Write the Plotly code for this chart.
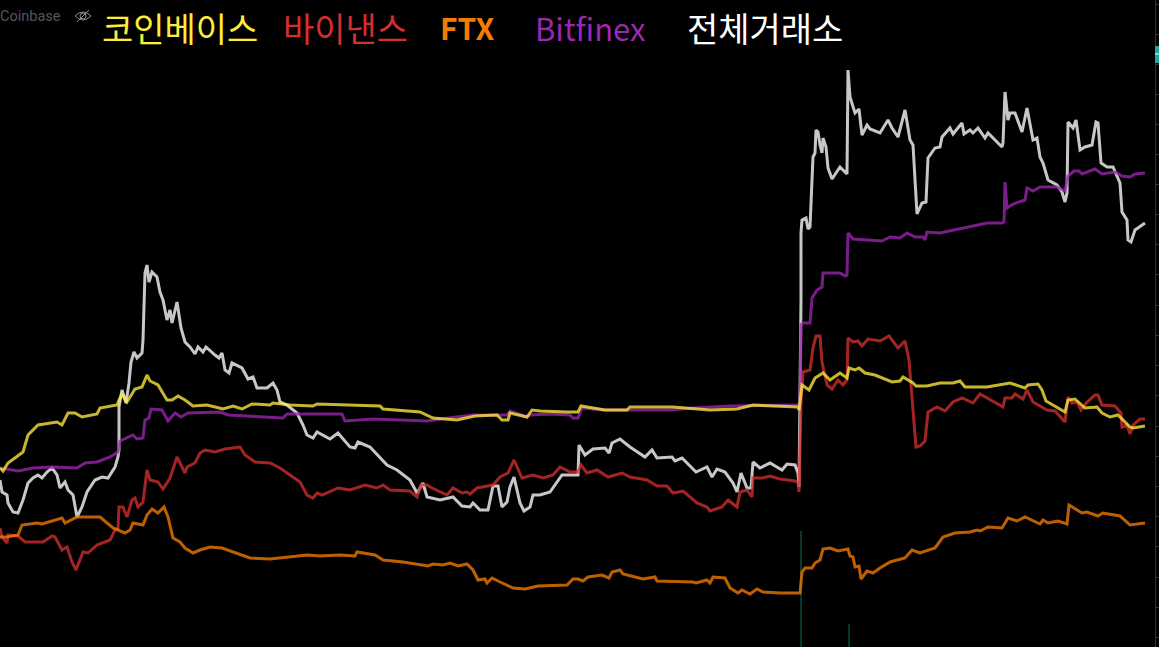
import plotly.graph_objects as go

# Time position (left to right) and level (higher number = lower on chart)
gray_x = [0,2,7,8,13,18,23,28,33,38,42,47,52,57,60,65,68,73,77,82,87,95,102,108,115,118,119,119,122,126,129,131,134,137,142,143,145,147,149,152,157,160,163,167,170,172,177,181,185,190,195,198,203,206,215,219,222,225,229,232,242,248,253,257,267,273,277,280,287,297,303,307,313,317,330,338,350,355,358,370,387,397,410,417,423,427,440,453,462,470,473,480,488,493,498,502,507,510,514,520,524,530,533,540,550,562,572,578,579,585,593,605,609,612,620,630,645,652,657,672,675,682,696,707,712,717,725,733,737,741,747,751,753,760,770,782,787,795,798,799,801,801,802,806,808,810,813,815,816,818,820,822,823,826,828,832,840,847,848,850,855,859,862,867,870,880,888,892,898,905,910,913,917,922,926,928,935,940,942,950,953,962,964,970,973,978,985,988,1002,1003,1005,1008,1010,1015,1022,1027,1033,1037,1040,1043,1048,1057,1062,1065,1067,1068,1073,1076,1080,1085,1092,1096,1098,1101,1107,1113,1120,1122,1127,1128,1131,1135,1145]
gray_y = [480,492,495,503,512,513,500,483,478,475,478,472,468,475,488,482,490,495,517,507,492,480,477,478,467,457,450,407,390,403,383,362,352,358,353,340,273,265,282,272,277,292,300,320,310,323,302,328,342,347,354,347,352,347,355,358,353,370,373,363,368,379,377,388,388,383,390,402,405,413,425,435,438,432,439,433,447,448,442,447,465,470,480,493,483,497,500,497,506,507,503,510,510,486,486,507,502,487,477,503,511,507,495,495,492,475,475,475,445,455,449,448,453,443,439,447,457,450,458,457,461,458,472,467,477,469,472,483,492,473,488,488,462,468,463,470,464,465,473,487,300,233,220,218,229,227,157,153,130,132,145,153,138,147,168,179,167,174,70,97,113,109,135,125,129,133,120,128,137,110,140,145,214,203,202,158,148,147,137,128,134,123,134,130,133,128,138,133,147,143,92,120,113,113,132,108,140,138,157,163,180,185,192,202,193,122,128,120,150,147,145,122,123,163,167,167,183,212,220,240,242,230,223]

purple_x = [0,7,18,33,53,77,85,97,110,118,120,133,137,143,145,149,151,162,168,175,181,188,220,228,283,287,342,345,373,427,440,473,507,510,527,530,550,570,573,578,582,603,670,693,730,797,800,801,803,810,812,817,822,823,840,845,847,848,853,882,890,900,907,915,923,925,927,940,963,980,987,1002,1004,1005,1007,1013,1025,1027,1033,1040,1057,1065,1068,1074,1079,1082,1095,1102,1115,1122,1130,1135,1145]
purple_y = [468,469,471,468,467,468,463,462,457,452,441,435,439,438,420,418,409,410,421,413,417,413,412,415,418,414,414,421,419,421,419,415,415,411,417,415,414,415,418,418,408,410,410,408,406,405,405,325,323,323,298,290,287,273,273,276,275,233,239,241,237,238,233,237,237,240,232,233,228,225,223,223,222,182,208,204,200,188,191,187,187,191,176,171,171,174,169,174,172,176,177,174,173]

yellow_x = [0,3,8,23,28,38,57,62,68,75,82,97,100,117,119,122,127,135,142,147,150,158,167,172,178,185,193,207,223,233,242,252,270,273,290,313,317,380,383,420,433,457,475,497,502,508,510,527,532,540,567,578,581,605,627,630,673,710,737,753,798,799,802,805,809,815,823,830,840,847,849,855,859,865,875,892,900,903,913,916,927,940,953,960,965,987,1010,1025,1028,1038,1042,1046,1065,1068,1075,1085,1097,1102,1110,1118,1130,1133,1145]
yellow_y = [468,471,463,452,435,425,422,425,413,413,417,414,408,405,400,394,402,389,387,375,381,385,400,400,396,400,406,405,409,406,409,404,405,403,405,406,404,406,409,412,418,420,416,415,420,420,413,417,410,411,412,412,406,410,410,407,407,410,409,405,407,410,385,387,390,378,373,380,373,378,368,370,368,373,375,382,381,377,383,386,386,383,383,381,387,387,383,388,385,384,390,401,412,400,399,408,407,413,417,415,427,428,426]

red_x = [0,2,7,8,18,25,43,52,55,62,67,72,76,83,88,97,110,115,118,119,123,127,132,135,138,143,147,150,158,163,170,177,185,187,195,200,205,215,225,240,245,255,270,280,290,300,307,313,317,322,338,350,365,377,383,390,410,417,421,427,432,447,453,462,467,470,477,493,500,508,514,522,533,543,553,560,570,578,581,587,597,608,622,630,647,657,667,673,683,697,707,710,722,728,737,740,747,752,753,763,770,780,795,798,799,801,803,810,813,816,820,822,827,832,838,843,847,848,853,858,862,868,880,889,898,905,909,916,920,925,928,937,945,953,962,973,980,990,1003,1005,1012,1015,1023,1027,1033,1047,1055,1065,1068,1072,1077,1081,1087,1095,1098,1102,1115,1121,1122,1127,1130,1133,1140,1145]
red_y = [528,537,543,535,536,542,542,536,537,550,547,562,570,552,553,545,540,530,528,507,507,517,500,498,507,502,470,480,482,489,478,457,473,467,463,453,450,452,449,447,455,462,463,468,475,482,495,498,493,495,488,490,485,488,485,490,491,497,485,485,488,495,488,493,492,494,488,485,477,473,460,478,475,478,475,467,472,472,465,473,470,477,473,477,480,486,486,493,491,503,507,511,507,500,507,492,490,497,478,478,476,479,481,483,492,403,372,370,348,336,336,362,385,389,380,385,380,338,342,341,346,339,341,336,348,341,360,447,446,441,412,407,411,402,398,403,394,400,407,398,398,394,399,390,402,410,411,422,397,403,402,410,402,395,395,405,406,413,427,425,434,425,419,419]

orange_x = [0,7,18,22,37,42,62,65,77,100,113,125,130,133,143,147,152,158,164,168,173,180,185,193,200,210,222,235,250,270,295,307,320,340,355,357,375,383,403,420,428,433,443,450,458,467,473,478,485,487,492,500,513,525,538,567,573,578,583,588,602,609,612,620,623,643,655,657,693,696,707,710,713,725,730,738,742,750,757,763,780,800,802,805,812,815,820,823,830,838,848,850,853,855,859,861,867,873,880,890,905,912,920,935,943,955,970,977,980,988,1002,1008,1017,1025,1040,1043,1048,1058,1067,1069,1082,1087,1098,1103,1120,1130,1145]
orange_y = [537,537,535,525,523,524,518,523,517,517,528,533,530,523,525,515,509,513,507,517,538,542,548,553,550,547,548,553,558,559,556,555,556,555,556,552,555,560,562,565,566,564,565,563,566,564,570,580,579,583,578,582,588,589,586,585,579,579,581,577,575,578,572,570,574,579,577,581,582,583,580,583,577,578,588,593,590,594,589,592,593,593,572,568,568,563,560,549,548,551,549,556,557,567,566,579,571,573,568,562,558,550,553,548,537,533,532,530,531,527,528,518,521,517,524,520,523,521,524,505,513,512,516,513,516,525,523]

legend_labels = ["코인베이스", "바이낸스", "<b>FTX</b>", "Bitfinex", "전체거래소"]
legend_colors = ["#ffeb3b", "#d32f2f", "#f57c00", "#9c27b0", "#ffffff"]
legend_pos = [102, 283, 440, 535, 687]
legend_sizes = [34, 34, 30, 31, 34]
tick_vals = [4,34,64,94,124,154,184,214,244,274,305,335,365,395,426,456,486,516,546,577,607,637]
volume_x = [801, 849]
volume_top = [531, 624]

fig = go.Figure()
for vx, vt in zip(volume_x, volume_top):
    fig.add_trace(go.Scatter(x=[vx, vx], y=[vt, 647], mode="lines",
                             line=dict(color="#0f6e60", width=1), hoverinfo="skip"))
series = [(gray_x, gray_y, "#ffffff"), (red_x, red_y, "#d32f2f"), (orange_x, orange_y, "#f57c00"),
          (purple_x, purple_y, "#9c27b0"), (yellow_x, yellow_y, "#ffeb3b")]
for xs, ys, c in series:
    fig.add_trace(go.Scatter(x=xs, y=ys, mode="lines", opacity=0.78,
                             line=dict(color=c, width=3), hoverinfo="skip"))

annotations = [dict(x=0, y=16, xref="x", yref="y", text="Coinbase", showarrow=False, xanchor="left", yanchor="middle",
                    xshift=-2, font=dict(family="Roboto", size=14.5, color="#55555f"))]
for t, c, p, s in zip(legend_labels, legend_colors, legend_pos, legend_sizes):
    annotations.append(dict(x=p, y=27, xref="x", yref="y", text=t, showarrow=False, xanchor="left", yanchor="middle",
                            xshift=-2, font=dict(family="Noto Sans CJK KR, Noto Sans", size=s, color=c)))

shapes = [
    dict(type="rect", xref="paper", yref="y", x0=1.0, x1=1159/1155, y0=46, y1=63, fillcolor="#26a69a", line_width=0, layer="above"),
    dict(type="line", xref="paper", yref="y", x0=1.0, x1=1159/1155, y0=54, y1=54, line=dict(color="#ffffff", width=1), layer="above"),
    dict(type="path", xref="x", yref="y", path="M 75 16 Q 83 8 91 16 Q 83 24 75 16 Z", line=dict(color="#8a8a8a", width=1)),
    dict(type="circle", xref="x", yref="y", x0=80, x1=86, y0=13, y1=19, line=dict(color="#8a8a8a", width=1)),
    dict(type="line", xref="x", yref="y", x0=77, x1=89, y0=22, y1=10, line=dict(color="#8a8a8a", width=1)),
]

fig.update_layout(
    width=1159, height=647, margin=dict(l=0, r=4, t=0, b=0),
    paper_bgcolor="#000000", plot_bgcolor="#000000", showlegend=False,
    annotations=annotations, shapes=shapes,
    xaxis=dict(range=[0, 1155], visible=False, fixedrange=True),
    yaxis=dict(range=[647, 0], side="right", showgrid=False, zeroline=False, showline=True,
               linecolor="#333333", linewidth=1, tickmode="array", tickvals=tick_vals,
               ticks="outside", ticklen=4, tickcolor="#333333", showticklabels=False, fixedrange=True),
)
fig.write_html("out.html", config=dict(displayModeBar=False),
               post_script="document.body.style.margin='0';document.body.style.background='#000';document.body.style.overflow='hidden';")
